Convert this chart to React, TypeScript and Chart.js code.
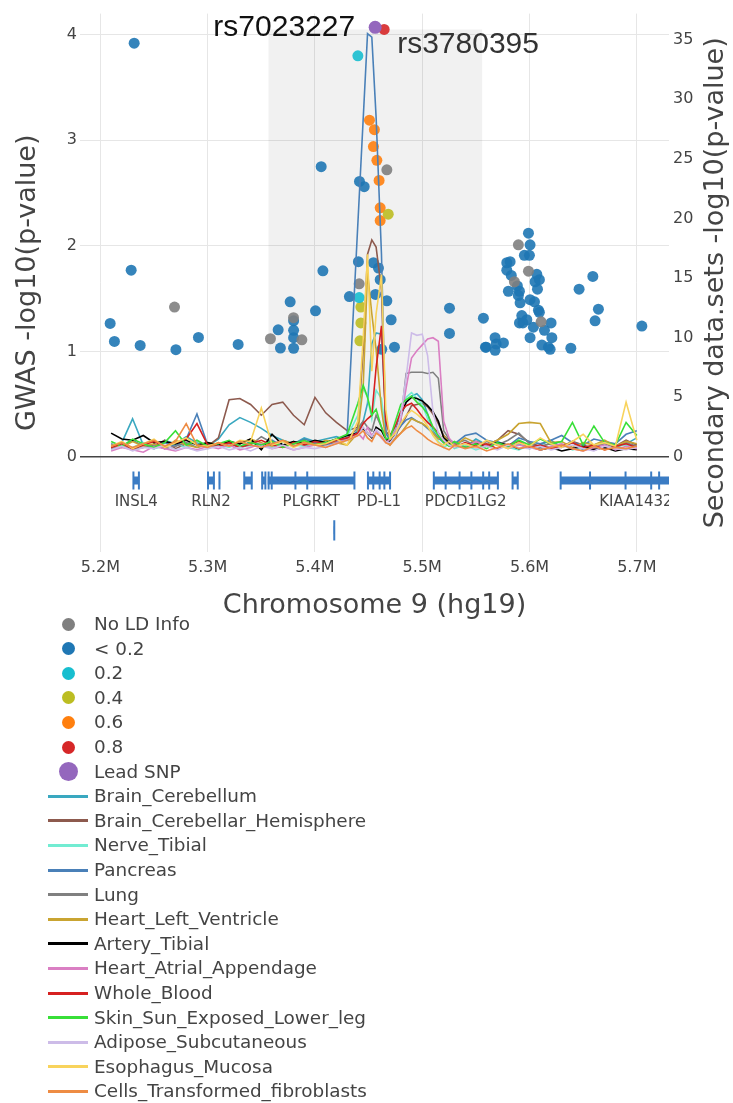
import React, { useEffect, useRef } from 'react';
import { Chart, registerables } from 'chart.js';
Chart.register(...registerables);

// ---------- axes ----------
const xTickValues = [5.2, 5.3, 5.4, 5.5, 5.6, 5.7];
const gwasTickValues = [0, 1, 2, 3, 4];
const secondaryTickValues = [0, 5, 10, 15, 20, 25, 30, 35];

// ---------- GWAS points by LD class ----------
const noLdPos = [5.2691, 5.3585, 5.38, 5.3878, 5.4412, 5.467, 5.5896, 5.599, 5.5859, 5.6108];
const noLdVal = [1.42, 1.12, 1.32, 1.11, 1.64, 2.72, 2.01, 1.76, 1.66, 1.28];

const lowLdPos = [5.2315, 5.2287, 5.2091, 5.2131, 5.2371, 5.2704, 5.2914, 5.3284, 5.3657, 5.3678, 5.3769, 5.3801, 5.3801, 5.3801, 5.3801, 5.4005, 5.4074, 5.4058, 5.4415, 5.4459, 5.4321, 5.4405, 5.4545, 5.4592, 5.4564, 5.4608, 5.467, 5.471, 5.4623, 5.4741, 5.5254, 5.5254, 5.557, 5.5589,
  5.599, 5.6005, 5.5952, 5.5999, 5.5819, 5.5788, 5.6068, 5.6092, 5.6052, 5.6074, 5.5887, 5.5906, 5.5803, 5.5896, 5.5912, 5.6005, 5.6046, 5.6083, 5.6092, 5.5928, 5.5975, 5.5906, 5.5938, 5.6201, 5.6036, 5.6139, 5.6005, 5.6208, 5.6115, 5.6176, 5.6192, 5.6385, 5.5596, 5.5679, 5.5689, 5.5757, 5.5679, 5.6462, 5.659, 5.6642, 5.6611, 5.7047, 5.5788, 5.583];
const lowLdVal = [3.92, 1.77, 1.265, 1.095, 1.057, 1.016, 1.132, 1.066, 1.205, 1.032, 1.47, 1.29, 1.2, 1.13, 1.03, 1.385, 1.763, 2.75, 2.61, 2.56, 1.52, 1.85, 1.84, 1.79, 1.54, 1.68, 1.48, 1.3, 1.02, 1.04, 1.41, 1.17, 1.315, 1.04,
  2.12, 2.01, 1.91, 1.91, 1.85, 1.77, 1.73, 1.68, 1.66, 1.59, 1.62, 1.57, 1.57, 1.53, 1.46, 1.49, 1.47, 1.39, 1.37, 1.34, 1.3, 1.27, 1.27, 1.27, 1.23, 1.2, 1.13, 1.13, 1.06, 1.04, 1.02, 1.03, 1.04, 1.13, 1.07, 1.08, 1.01, 1.59, 1.71, 1.4, 1.29, 1.24, 1.84, 1.72];

const ld2Pos = [5.44, 5.4412];
const ld2Val = [3.8, 1.51];
const ld4Pos = [5.4428, 5.4428, 5.4419, 5.4683];
const ld4Val = [1.42, 1.27, 1.1, 2.3];
const ld6Pos = [5.4508, 5.4554, 5.4545, 5.4577, 5.4598, 5.4608, 5.4608];
const ld6Val = [3.19, 3.1, 2.94, 2.81, 2.62, 2.36, 2.24];
const ld8Pos = [5.4645];
const ld8Val = [4.05];
const leadPos = [5.4561];
const leadVal = [4.07];

const annotationLabels = ['rs7023227', 'rs3780395'];

const ldNames = ['No LD Info', '< 0.2', '0.2', '0.4', '0.6', '0.8', 'Lead SNP'];
const ldColors = ['#7f7f7f', '#1f77b4', '#17becf', '#bcbd22', '#ff7f0e', '#d62728', '#9467bd'];

// ---------- secondary (eQTL) series ----------
const linePositions = [
  5.21, 5.22, 5.23, 5.24, 5.25, 5.26, 5.27, 5.28, 5.29, 5.30,
  5.31, 5.32, 5.33, 5.34, 5.35, 5.36, 5.37, 5.38, 5.39, 5.40,
  5.41, 5.42, 5.43, 5.44, 5.445, 5.449, 5.453, 5.457, 5.462, 5.466,
  5.47, 5.475, 5.48, 5.485, 5.49, 5.495, 5.50, 5.505, 5.51, 5.515,
  5.52, 5.525, 5.53, 5.54, 5.55, 5.56, 5.57, 5.58, 5.59, 5.60,
  5.61, 5.62, 5.63, 5.64, 5.65, 5.66, 5.67, 5.68, 5.69, 5.70];

const brainCerebellumVals = [0.9, 1.2, 3.2, 1.0, 0.8, 1.4, 1.1, 1.7, 1.2, 0.9,
  1.5, 2.7, 3.3, 2.9, 2.4, 1.8, 1.4, 1.1, 1.6, 1.3,
  1.5, 1.7, 1.4, 2.2, 3.0, 4.5, 9.5, 10.4, 10.3, 3.0,
  1.8, 2.2, 3.4, 4.6, 5.1, 5.3, 4.8, 3.6, 2.2, 1.6,
  1.3, 1.0, 1.2, 0.8, 1.5, 1.0, 1.3, 0.9, 1.1, 0.7,
  1.0, 1.4, 0.8, 1.2, 0.6, 1.0, 1.3, 0.8, 1.1, 1.6];
const brainHemisphereVals = [0.8, 1.2, 0.6, 1.0, 0.9, 1.4, 0.7, 1.1, 1.3, 0.9,
  1.6, 4.8, 4.9, 4.4, 3.5, 4.4, 4.6, 3.5, 2.7, 5.0,
  3.7, 2.9, 2.2, 2.5, 9.0, 17.0, 18.2, 17.6, 14.0, 2.2,
  1.6, 1.9, 2.6, 3.4, 4.3, 4.4, 4.5, 4.2, 3.6, 2.8,
  1.8, 1.4, 1.2, 0.9, 1.3, 1.0, 1.4, 2.2, 1.9, 1.2,
  0.9, 1.1, 0.8, 1.3, 1.0, 0.7, 1.2, 0.9, 1.4, 1.0];
const nerveTibialVals = [0.6, 1.0, 0.8, 1.2, 0.7, 0.9, 1.1, 0.8, 1.3, 0.7,
  1.0, 0.8, 1.2, 0.9, 1.1, 0.8, 1.3, 1.0, 0.9, 1.2,
  1.0, 1.4, 1.7, 3.5, 5.8, 5.0, 3.2, 5.6, 4.9, 2.0,
  1.5, 2.5, 3.9, 5.0, 5.4, 4.9, 4.4, 3.2, 2.0, 1.3,
  0.8, 1.1, 0.7, 1.0, 0.6, 0.9, 1.2, 0.8, 0.6, 1.0,
  0.7, 0.9, 1.1, 0.6, 0.8, 1.0, 0.7, 0.9, 1.0, 0.8];
const pancreasVals = [1.1, 0.8, 1.4, 0.9, 0.7, 1.2, 0.9, 1.5, 3.6, 1.0,
  0.9, 1.2, 0.8, 1.3, 1.0, 1.4, 0.9, 1.1, 1.5, 1.2,
  1.0, 1.3, 1.9, null, null, 35.5, 35.2, 28.5, 17.0, 2.0,
  1.4, 2.0, 2.6, 3.1, 3.3, 3.0, 2.8, 2.4, 2.0, 1.6,
  1.2, 1.5, 1.1, 1.8, 2.0, 1.4, 1.2, 0.9, 1.6, 1.3,
  1.1, 1.4, 1.8, 1.2, 1.0, 1.5, 1.3, 1.1, 1.9, 2.2];
const lungVals = [0.7, 0.9, 0.6, 0.8, 1.0, 0.7, 0.9, 1.2, 0.8, 1.0,
  0.9, 1.1, 0.8, 1.0, 1.7, 1.2, 0.9, 1.3, 1.0, 1.1,
  0.9, 1.2, 1.6, 2.4, 3.0, 2.5, 2.2, 3.5, 2.5, 1.6,
  1.2, 1.6, 3.0, 7.0, 7.1, 7.1, 7.1, 7.0, 7.1, 6.6,
  2.2, 1.5, 1.1, 1.4, 0.9, 1.3, 1.0, 1.4, 2.0, 1.1,
  0.8, 1.2, 0.9, 1.3, 0.7, 1.0, 1.1, 0.8, 1.2, 0.9];
const heartLeftVentricleVals = [1.0, 0.8, 1.3, 0.9, 1.1, 0.7, 1.4, 1.0, 0.8, 1.2,
  1.0, 1.3, 1.1, 1.5, 1.2, 0.9, 1.4, 1.1, 1.3, 1.0,
  1.4, 1.2, 1.0, 2.0, 6.0, 15.5, 12.0, 9.0, 4.0, 1.5,
  1.0, 1.6, 2.0, 2.6, 3.2, 3.0, 2.8, 2.5, 2.0, 1.5,
  1.8, 1.2, 0.9, 1.6, 1.2, 1.0, 1.4, 1.9, 2.8, 2.9,
  2.8, 1.2, 1.3, 0.8, 1.2, 1.0, 1.4, 0.9, 1.3, 1.1];
const arteryTibialVals = [2.0, 1.5, 1.4, 1.8, 1.2, 1.3, 1.1, 1.4, 1.0, 1.2,
  1.0, 1.3, 1.1, 1.5, 0.6, 1.9, 1.0, 1.3, 1.1, 1.4,
  1.2, 1.5, 1.8, 2.0, 2.4, 2.0, 1.6, 2.5, 2.2, 1.5,
  1.3, 2.0, 3.5, 4.6, 5.0, 4.9, 4.7, 4.3, 3.8, 3.0,
  1.6, 1.2, 1.0, 0.8, 1.1, 0.9, 1.2, 1.0, 0.7, 0.9,
  0.6, 0.8, 0.5, 0.7, 0.9, 0.6, 0.8, 0.5, 0.7, 0.6];
const heartAtrialVals = [0.5, 0.8, 0.6, 0.4, 0.9, 0.7, 0.5, 0.8, 0.6, 0.9,
  0.7, 1.0, 0.6, 0.8, 1.1, 0.7, 0.9, 0.6, 0.8, 1.0,
  0.8, 1.2, 1.5, 2.0, 1.5, 2.5, 1.8, 2.2, 1.6, 1.2,
  1.5, 2.2, 3.1, 5.8, 8.3, 8.9, 9.4, 9.9, 10.0, 9.7,
  3.0, 1.6, 1.0, 0.8, 1.3, 0.9, 1.1, 0.7, 1.0, 0.8,
  0.6, 0.9, 1.1, 0.7, 0.5, 0.8, 1.0, 0.6, 0.9, 0.7];
const wholeBloodVals = [0.8, 1.1, 0.7, 1.0, 1.3, 0.9, 1.2, 1.5, 2.8, 1.0,
  0.9, 1.2, 0.8, 1.1, 1.4, 1.0, 0.8, 1.2, 1.0, 1.3,
  1.1, 1.4, 1.6, 2.0, 2.8, 3.2, 3.5, 7.5, 11.0, 3.0,
  1.8, 2.6, 3.8, 4.3, 4.5, 4.0, 3.4, 2.9, 2.5, 2.0,
  1.3, 1.0, 0.8, 1.2, 0.9, 1.1, 0.7, 1.0, 1.3, 0.8,
  1.0, 0.7, 0.9, 1.2, 0.8, 1.0, 0.6, 0.9, 1.1, 0.8];
const skinVals = [1.3, 0.9, 1.5, 1.1, 0.8, 1.2, 2.2, 1.0, 1.4, 0.9,
  1.1, 1.4, 0.9, 1.2, 1.0, 1.3, 0.8, 1.1, 1.4, 1.0,
  1.2, 1.5, 1.9, 4.5, 6.0, 5.0, 3.5, 4.0, 2.5, 1.5,
  1.6, 3.0, 4.4, 4.8, 5.1, 4.6, 4.2, 3.6, 2.5, 1.8,
  1.2, 0.9, 1.3, 0.8, 1.1, 0.7, 1.2, 0.9, 1.4, 1.0,
  1.5, 1.1, 1.3, 2.9, 1.0, 2.6, 1.2, 1.0, 2.9, 1.8];
const adiposeVals = [0.6, 0.9, 0.5, 0.8, 0.7, 1.0, 0.6, 0.8, 0.5, 0.7,
  0.9, 0.6, 0.8, 0.5, 0.9, 0.7, 1.0, 0.6, 0.8, 0.7,
  0.9, 1.1, 1.4, 1.8, 2.5, 2.0, 1.7, 2.3, 1.8, 1.3,
  1.2, 1.8, 3.5, 6.7, 10.4, 10.2, 10.3, 8.5, 3.8, 2.0,
  1.4, 1.0, 0.8, 1.1, 0.7, 0.9, 0.6, 1.0, 0.8, 0.7,
  0.9, 0.6, 0.8, 1.0, 0.7, 0.5, 0.9, 0.7, 0.6, 0.8];
const esophagusVals = [0.9, 1.3, 0.7, 1.1, 1.5, 0.8, 1.2, 1.6, 1.0, 0.9,
  1.2, 0.9, 1.4, 1.3, 4.1, 1.0, 1.3, 0.8, 1.2, 1.0,
  1.1, 1.5, 1.0, 3.0, 10.0, 17.0, 7.2, 12.0, 15.3, 4.0,
  1.5, 2.0, 2.8, 3.5, 3.9, 3.6, 3.2, 2.6, 1.8, 1.2,
  1.0, 1.3, 0.9, 1.1, 0.8, 1.4, 1.0, 0.7, 1.2, 0.9,
  1.6, 1.1, 0.8, 1.3, 1.9, 1.0, 1.2, 0.9, 4.6, 1.4];
const fibroblastVals = [0.9, 1.2, 0.8, 1.1, 1.4, 0.9, 1.3, 2.8, 1.0, 0.8,
  1.2, 0.9, 1.3, 1.0, 0.8, 1.1, 1.4, 0.9, 1.2, 1.0,
  0.8, 1.1, 1.4, 1.8, 2.2, 1.6, 1.3, 2.0, 1.7, 1.2,
  1.0, 1.5, 2.0, 2.4, 2.6, 2.2, 1.9, 1.5, 1.2, 1.0,
  0.8, 0.6, 1.0, 0.7, 0.9, 0.5, 0.8, 1.1, 0.7, 0.9,
  0.6, 0.8, 1.0, 0.7, 0.5, 0.9, 0.6, 0.8, 0.7, 0.9];

const seriesNames = ['Brain_Cerebellum', 'Brain_Cerebellar_Hemisphere', 'Nerve_Tibial', 'Pancreas', 'Lung', 'Heart_Left_Ventricle', 'Artery_Tibial', 'Heart_Atrial_Appendage', 'Whole_Blood', 'Skin_Sun_Exposed_Lower_leg', 'Adipose_Subcutaneous', 'Esophagus_Mucosa', 'Cells_Transformed_fibroblasts'];
const seriesValues = [brainCerebellumVals, brainHemisphereVals, nerveTibialVals, pancreasVals, lungVals, heartLeftVentricleVals, arteryTibialVals, heartAtrialVals, wholeBloodVals, skinVals, adiposeVals, esophagusVals, fibroblastVals];
const seriesColors = ['#3aa8c0', '#8d5a4e', '#72ecd2', '#4a80b8', '#808080', '#c9a431', '#000000', '#da7fc3', '#d62020', '#38df38', '#cdbce8', '#f8d35c', '#ee8c44'];

// ---------- genes ----------
const geneLabels = ['INSL4', 'RLN2', '', '', '', 'PLGRKT', '', 'PD-L1', 'PDCD1LG2', '', 'KIAA1432'];
const geneStarts = [5.2306, 5.3001, 5.3105, 5.3339, 5.3505, 5.356, 5.4175, 5.4492, 5.51, 5.5838, 5.6287];
const geneEnds = [5.2361, 5.3061, 5.3116, 5.3413, 5.3541, 5.4371, 5.4185, 5.4703, 5.571, 5.5894, 5.7696];
const geneRows = [0, 0, 0, 0, 0, 0, 1, 0, 0, 0, 0];
const exonPositions = [5.2308, 5.2359, 5.3003, 5.3058, 5.311, 5.3341, 5.3411, 5.3508, 5.3538, 5.3568, 5.3597, 5.3818, 5.3928, 5.4368, 5.418, 5.4494, 5.4544, 5.4603, 5.4647, 5.47, 5.5108, 5.5218, 5.5348, 5.5458, 5.5568, 5.5624, 5.5705, 5.5842, 5.589, 5.629, 5.6564, 5.6895, 5.7134, 5.7208];
const exonRows = [0, 0, 0, 0, 0, 0, 0, 0, 0, 0, 0, 0, 0, 0, 1, 0, 0, 0, 0, 0, 0, 0, 0, 0, 0, 0, 0, 0, 0, 0, 0, 0, 0, 0];

const geneRowLevels = [-0.222, -0.695];
const exonHalfHeights = [0.085, 0.095];
const geneLabelLevel = -0.425;
const geneColor = '#3b7cc4';

const shadeRange = [5.3565, 5.5561];
const shadeTop = 4.05;

const FONT = '"DejaVu Sans", sans-serif';

const overlayPlugin = {
  id: 'overlay',
  afterDatasetsDraw(chart: any) {
    const { ctx, chartArea, scales } = chart;
    const xs = scales.x;
    const ys = scales.y;
    ctx.save();
    ctx.beginPath();
    ctx.rect(chartArea.left, chartArea.top, chartArea.right - chartArea.left, chartArea.bottom - chartArea.top);
    ctx.clip();
    ctx.font = '15px ' + FONT;
    ctx.fillStyle = '#444';
    ctx.textAlign = 'center';
    ctx.textBaseline = 'middle';
    geneLabels.forEach((name, i) => {
      if (!name) return;
      const mid = (geneStarts[i] + geneEnds[i]) / 2;
      ctx.fillText(name, xs.getPixelForValue(mid), ys.getPixelForValue(geneLabelLevel));
    });
    ctx.restore();

    ctx.save();
    ctx.font = '30px "Liberation Sans", Arial, sans-serif';
    ctx.textBaseline = 'middle';
    ctx.fillStyle = '#111';
    ctx.textAlign = 'right';
    ctx.fillText(annotationLabels[0], xs.getPixelForValue(leadPos[0]) - 20, ys.getPixelForValue(leadVal[0]));
    ctx.fillStyle = '#333';
    ctx.textAlign = 'left';
    ctx.fillText(annotationLabels[1], xs.getPixelForValue(ld8Pos[0]) + 13, ys.getPixelForValue(ld8Val[0]) + 15);
    ctx.restore();

    ctx.save();
    ctx.font = '27px ' + FONT;
    ctx.fillStyle = '#444';
    ctx.textAlign = 'center';
    ctx.textBaseline = 'middle';
    ctx.translate(716, (chartArea.top + chartArea.bottom) / 2);
    ctx.rotate(-Math.PI / 2);
    ctx.fillText('Secondary data.sets -log10(p-value)', 0, 0);
    ctx.restore();
  },
};

function pts(pos: number[], val: (number | null)[]) {
  return pos.map((p, i) => ({ x: p, y: val[i] }));
}

export default function App() {
  const ref = useRef<HTMLCanvasElement | null>(null);

  useEffect(() => {
    if (!ref.current) return;
    Chart.defaults.font.family = FONT;

    const datasets: any[] = [];
    datasets.push({
      label: 'shade', data: [{ x: shadeRange[0], y: shadeTop }, { x: shadeRange[1], y: shadeTop }],
      showLine: true, fill: 'origin', backgroundColor: 'rgba(0,0,0,0.055)', borderWidth: 0, pointRadius: 0, yAxisID: 'y', order: 100,
    });

    const geneData: any[] = [];
    geneStarts.forEach((s, i) => {
      const lv = geneRowLevels[geneRows[i]];
      geneData.push({ x: s, y: lv }, { x: geneEnds[i], y: lv }, { x: geneEnds[i], y: null });
    });
    datasets.push({
      label: 'genes', data: geneData, showLine: true, borderColor: geneColor, borderWidth: 8, borderCapStyle: 'butt',
      pointRadius: 0, spanGaps: false, yAxisID: 'y', order: 90, clip: 0,
    });
    const exonData: any[] = [];
    exonPositions.forEach((e, i) => {
      const lv = geneRowLevels[exonRows[i]];
      const h = exonHalfHeights[exonRows[i]];
      exonData.push({ x: e, y: lv + h }, { x: e, y: lv - h }, { x: e, y: null });
    });
    datasets.push({
      label: 'exons', data: exonData, showLine: true, borderColor: geneColor, borderWidth: 2, borderCapStyle: 'butt',
      pointRadius: 0, spanGaps: false, yAxisID: 'y', order: 89, clip: 0,
    });

    const ldSets = [[noLdPos, noLdVal], [lowLdPos, lowLdVal], [ld2Pos, ld2Val], [ld4Pos, ld4Val], [ld6Pos, ld6Val], [ld8Pos, ld8Val]];
    ldSets.forEach(([p, v], i) => {
      datasets.push({
        label: ldNames[i], data: pts(p as number[], v as number[]), showLine: false,
        pointRadius: 5.5, pointBorderWidth: 0, pointBackgroundColor: ldColors[i] + 'e6', yAxisID: 'y', order: 60,
      });
    });

    seriesNames.forEach((name, i) => {
      datasets.push({
        label: name, data: pts(linePositions, seriesValues[i]), showLine: true, spanGaps: true,
        borderColor: seriesColors[i], borderWidth: 1.6, pointRadius: 0, yAxisID: 'y2', order: 40 - i, tension: 0,
      });
    });

    datasets.push({
      label: ldNames[6], data: pts(leadPos, leadVal), showLine: false,
      pointRadius: 6.5, pointBorderWidth: 0, pointBackgroundColor: ldColors[6], yAxisID: 'y', order: 1,
    });

    const chart = new Chart(ref.current, {
      type: 'scatter',
      data: { datasets },
      options: {
        responsive: false,
        animation: false,
        devicePixelRatio: 1,
        layout: { padding: { top: 12, left: 0, right: 0, bottom: 0 } },
        plugins: { legend: { display: false }, tooltip: { enabled: false } },
        scales: {
          x: {
            type: 'linear', min: 5.181, max: 5.73,
            afterBuildTicks: (s: any) => { s.ticks = xTickValues.map((v) => ({ value: v })); },
            afterFit: (s: any) => { s.height = 72; },
            ticks: { callback: (v: any) => Number(v).toFixed(1) + 'M', color: '#444', font: { size: 16 }, padding: 6, maxRotation: 0, autoSkip: false },
            grid: { color: '#e6e6e6', drawTicks: false, lineWidth: 1 },
            border: { display: false },
            title: { display: true, text: 'Chromosome 9 (hg19)', color: '#444', font: { size: 27 }, padding: { top: 0, bottom: 2 } },
          },
          y: {
            type: 'linear', position: 'left', min: -0.9, max: 4.2,
            afterBuildTicks: (s: any) => { s.ticks = gwasTickValues.map((v) => ({ value: v })); },
            afterFit: (s: any) => { s.width = 80; },
            ticks: { color: '#444', font: { size: 16 }, padding: 3 },
            grid: {
              color: (c: any) => (c.tick && c.tick.value === 0 ? '#444' : '#e6e6e6'),
              lineWidth: (c: any) => (c.tick && c.tick.value === 0 ? 1.5 : 1),
              drawTicks: false,
            },
            border: { display: false },
            title: { display: true, text: 'GWAS -log10(p-value)', color: '#444', font: { size: 27 }, padding: { top: 12, bottom: 0 } },
          },
          y2: {
            type: 'linear', position: 'right', min: -7.97, max: 37.18,
            afterBuildTicks: (s: any) => { s.ticks = secondaryTickValues.map((v) => ({ value: v })); },
            afterFit: (s: any) => { s.width = 64; },
            ticks: { color: '#444', font: { size: 16 }, padding: 4 },
            grid: { display: false, drawTicks: false },
            border: { display: false },
          },
        },
      } as any,
      plugins: [overlayPlugin],
    });
    return () => chart.destroy();
  }, []);

  const legendRows: any[] = [];
  ldNames.forEach((n, i) => legendRows.push({ kind: 'dot', name: n, color: ldColors[i], big: i === 6 }));
  seriesNames.forEach((n, i) => legendRows.push({ kind: 'line', name: n, color: seriesColors[i] }));

  return (
    <div style={{ position: 'absolute', left: 0, top: 0, width: 733, height: 1103, background: '#fff', overflow: 'hidden' }}>
      <canvas ref={ref} width={733} height={624} style={{ position: 'absolute', left: 0, top: 0, width: 733, height: 624 }} />
      {legendRows.map((r, i) => {
        const cy = 624 + i * 24.6;
        return (
          <div key={r.name} style={{ position: 'absolute', left: 0, top: cy - 12, height: 24, width: 500 }}>
            {r.kind === 'dot' ? (
              <div style={{
                position: 'absolute', left: 68 - (r.big ? 9.5 : 6.5), top: 12 - (r.big ? 9.5 : 6.5),
                width: r.big ? 19 : 13, height: r.big ? 19 : 13, borderRadius: '50%', background: r.color,
              }} />
            ) : (
              <div style={{ position: 'absolute', left: 48, top: 10.5, width: 40, height: 3, background: r.color }} />
            )}
            <div style={{
              position: 'absolute', left: 94, top: 0, height: 24, lineHeight: '24px',
              fontFamily: FONT, fontSize: 18.4, color: '#444', whiteSpace: 'nowrap',
            }}>{r.name}</div>
          </div>
        );
      })}
    </div>
  );
}
